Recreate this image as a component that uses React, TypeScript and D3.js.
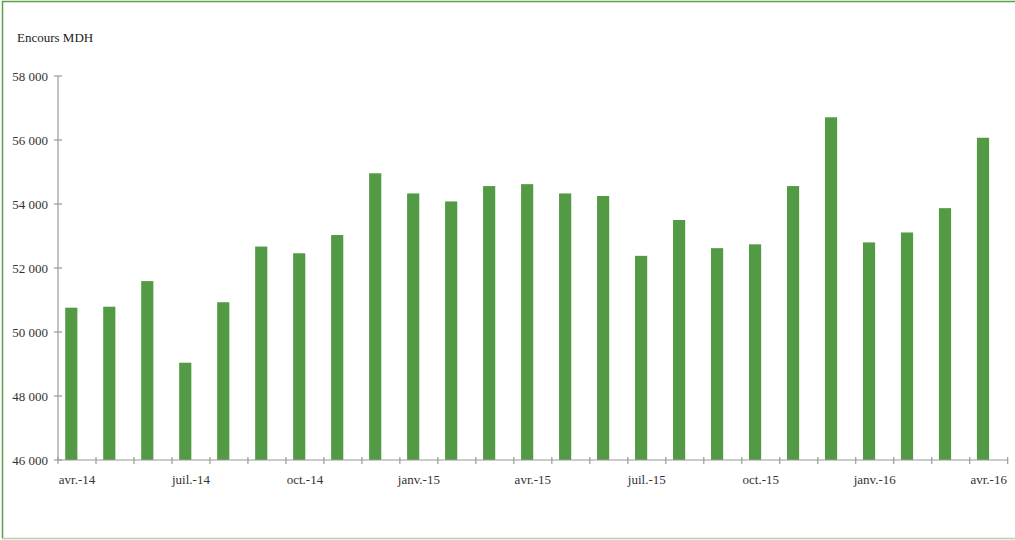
import React from "react";
import * as d3 from "d3";

const months = [
  "avr.-14", "mai-14", "juin-14", "juil.-14", "août-14", "sept.-14", "oct.-14", "nov.-14", "déc.-14",
  "janv.-15", "févr.-15", "mars-15", "avr.-15", "mai-15", "juin-15", "juil.-15", "août-15", "sept.-15",
  "oct.-15", "nov.-15", "déc.-15", "janv.-16", "févr.-16", "mars-16", "avr.-16",
];
const encours = [
  50760, 50790, 51590, 49040, 50930, 52670, 52460, 53030, 54960,
  54330, 54080, 54560, 54620, 54330, 54250, 52380, 53500, 52620,
  52740, 54560, 56710, 52800, 53110, 53870, 56070,
];
const yTicks = [46000, 48000, 50000, 52000, 54000, 56000, 58000];
const labelEvery = 3;

const W = 1015, H = 540;
const left = 58, right = 1007.7, top = 76, bottom = 460;
const font = "'Liberation Serif', 'Times New Roman', serif";
const axisColor = "#9a9a9a";
const barColor = "#529a43";

export default function App() {
  const x = d3.scaleBand<string>().domain(months).range([left, right]).padding(0);
  const y = d3.scaleLinear().domain([46000, 58000]).range([bottom, top]);
  const bw = x.bandwidth();
  const fmt = (v: number) => d3.format(",")(v).replace(/,/g, " ");

  const xTickPos = d3.range(months.length + 1).map((i) => left + i * bw);

  return (
    <svg width={W} height={H} style={{ position: "absolute", left: 0, top: 0, background: "#fff" }}>
      <rect x={0} y={0} width={W} height={H} fill="#fff" />
      {/* border */}
      <line x1={2} x2={W} y1={1.5} y2={1.5} stroke="#5a9e48" strokeWidth={1.5} />
      <line x1={2.5} x2={2.5} y1={1} y2={538.5} stroke="#5a9e48" strokeWidth={1.5} />
      <line x1={2} x2={W} y1={538.5} y2={538.5} stroke="#b9cdb3" strokeWidth={1.5} />

      <text x={17} y={42} fontFamily={font} fontSize={13} fill="#222">Encours MDH</text>

      {/* bars */}
      {encours.map((v, i) => (
        <rect
          key={i}
          x={(x(months[i]) as number) + bw * 0.19}
          y={y(v)}
          width={bw * 0.32}
          height={bottom - y(v)}
          fill={barColor}
        />
      ))}

      {/* y axis */}
      <line x1={left} x2={left} y1={top} y2={bottom} stroke={axisColor} strokeWidth={1.2} />
      {yTicks.map((t) => (
        <g key={t}>
          <line x1={left - 4} x2={left + 4} y1={y(t)} y2={y(t)} stroke={axisColor} strokeWidth={1.2} />
          <text x={48} y={y(t)} dy="0.35em" textAnchor="end" fontFamily={font} fontSize={13} fill="#333">
            {fmt(t)}
          </text>
        </g>
      ))}

      {/* x axis */}
      <line x1={left} x2={right} y1={bottom} y2={bottom} stroke={axisColor} strokeWidth={1.2} />
      {xTickPos.map((px, i) => (
        <line key={i} x1={px} x2={px} y1={bottom - 3} y2={bottom + 4} stroke={axisColor} strokeWidth={1.2} />
      ))}
      {months.map((m, i) =>
        i % labelEvery === 0 ? (
          <text
            key={m}
            x={(x(m) as number) + bw / 2}
            y={484}
            textAnchor="middle"
            fontFamily={font}
            fontSize={13}
            fill="#333"
          >
            {m}
          </text>
        ) : null
      )}
    </svg>
  );
}
